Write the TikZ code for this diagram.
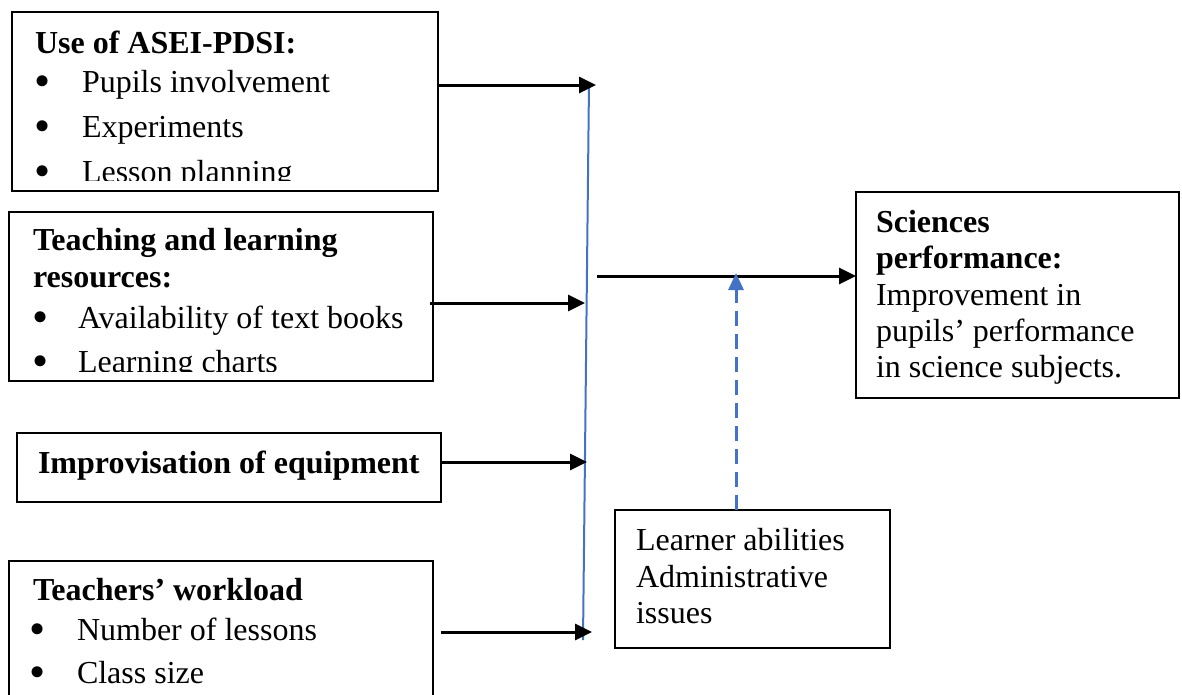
\documentclass[tikz,border=0pt]{standalone}
\usepackage{fontspec}
\setmainfont{Liberation Serif}
\usetikzlibrary{arrows.meta}
\definecolor{lineblue}{RGB}{68,114,196}
\begin{document}
\begin{tikzpicture}[x=1pt,y=-1pt,
  box/.style={draw=black, line width=2.5pt, inner sep=0pt, outer sep=0pt, anchor=north west},
  txt/.style={anchor=base west, inner sep=0pt, outer sep=0pt, font=\fontsize{32}{36}\selectfont},
  hd/.style={anchor=base west, inner sep=0pt, outer sep=0pt, font=\fontsize{32}{36}\selectfont\bfseries},
  bul/.style={anchor=base west, inner sep=0pt, outer sep=0pt, font=\fontsize{46}{46}\selectfont, yshift=-4.5pt},
  arr/.style={line width=3pt, -{Triangle[length=17pt,width=16pt]}},
  vline/.style={draw=lineblue, line width=2pt},
  dasharr/.style={draw=lineblue, line width=3pt, dash pattern=on 15pt off 8pt, -{Triangle[length=17pt,width=15pt,fill=lineblue]}}
]
\clip (0,0) rectangle (1182,694);
\fill[white] (0,0) rectangle (1182,694);

% boxes
\node[box, minimum width=426pt, minimum height=179pt] (b1) at (12,12) {};
\node[box, minimum width=424pt, minimum height=169pt] (b2) at (9,212) {};
\node[box, minimum width=424pt, minimum height=69pt] (b3) at (17,433) {};
\node[box, minimum width=424pt, minimum height=160pt] (b4) at (9,561) {};
\node[box, minimum width=323pt, minimum height=206pt] (b5) at (856,192) {};
\node[box, minimum width=275pt, minimum height=138pt] (b6) at (615,510) {};

% box 1 text
\begin{scope}
\clip (b1.north west) rectangle ([yshift=11pt]b1.south east);
\node[hd] (h1) at (35,53) {Use of ASEI-PDSI:};
\node[bul] (p1) at (34,92) {•};
\node[txt] (t11) at (82,92) {Pupils involvement};
\node[bul] (p2) at (34,137) {•};
\node[txt] (t12) at (82,137) {Experiments};
\node[bul] (p3) at (34,182) {•};
\node[txt] (t13) at (82,182) {Lesson planning};
\end{scope}

% box 2 text
\begin{scope}
\clip (b2.north west) rectangle ([yshift=10pt]b2.south east);
\node[hd] (h2a) at (33,250) {Teaching and learning};
\node[hd] (h2b) at (33,287) {resources:};
\node[bul] (p4) at (32,328) {•};
\node[txt] (t21) at (78,328) {Availability of text books};
\node[bul] (p5) at (32,372) {•};
\node[txt] (t22) at (78,372) {Learning charts};
\end{scope}

% box 3 text
\node[hd] (h3) at (38,473) {Improvisation of equipment};

% box 4 text
\node[hd] (h4) at (33,600) {Teachers’ workload};
\node[bul] (p6) at (29,640) {•};
\node[txt] (t41) at (77,640) {Number of lessons};
\node[bul] (p7) at (29,683) {•};
\node[txt] (t42) at (77,683) {Class size};

% box 5 text
\node[hd] (h5a) at (876,232) {Sciences};
\node[hd] (h5b) at (876,268) {performance:};
\node[txt] (t51) at (876,305) {Improvement in};
\node[txt] (t52) at (876,341) {pupils’ performance};
\node[txt] (t53) at (876,377) {in science subjects.};

% box 6 text
\node[txt] (t61) at (636,550) {Learner abilities};
\node[txt] (t62) at (636,587) {Administrative};
\node[txt] (t63) at (636,623) {issues};

% blue collector line
\coordinate (vt) at (589,83);
\coordinate (vb) at (583,640);
\draw[vline] (vt) -- (vb);

% arrow tips at the collector line
\coordinate (a1) at (596,85);
\coordinate (a2) at (585,303);
\coordinate (a3) at (587,462);
\coordinate (a4) at (592,632);

\draw[arr] (b1.east |- a1) -- (a1);
\draw[arr] ([xshift=-3pt]b2.east |- a2) -- (a2);
\draw[arr] (b3.east |- a3) -- (a3);
\draw[arr] ([xshift=8pt]b4.east |- a4) -- (a4);

% main arrow
\coordinate (ms) at (597,276);
\draw[arr] (ms) -- (ms -| b5.west);

% moderating dashed arrow
\coordinate (dt) at (736,273);
\draw[dasharr] (dt |- b6.north) -- (dt);
\end{tikzpicture}
\end{document}
